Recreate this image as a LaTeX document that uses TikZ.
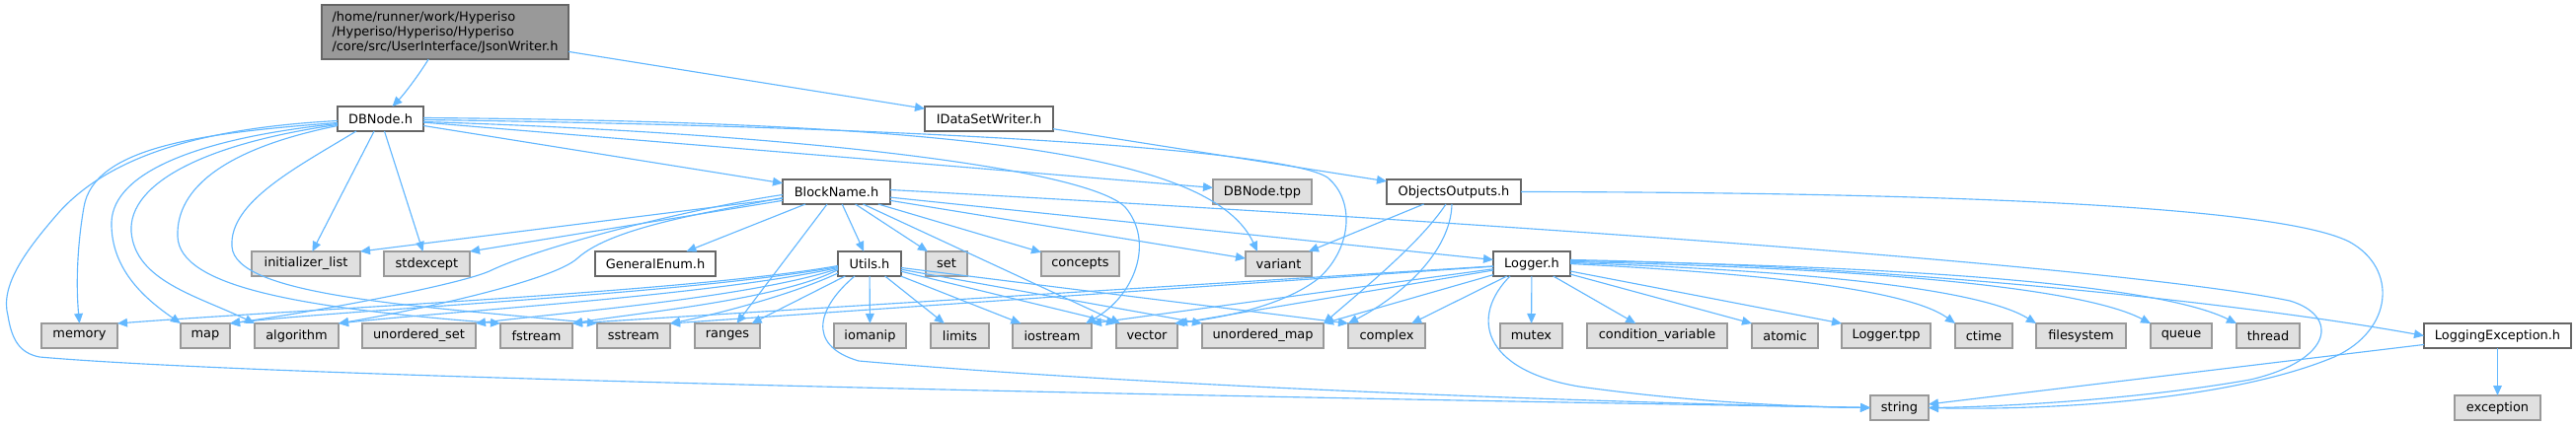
\documentclass[tikz,border=0pt]{standalone}
\usepackage{fontspec}
\setmainfont{DejaVu Sans}
\usetikzlibrary{arrows.meta,calc}
\definecolor{edgec}{HTML}{63B8FF}
\definecolor{gfill}{HTML}{E0E0E0}
\definecolor{gline}{HTML}{999999}
\definecolor{wline}{HTML}{666666}
\definecolor{rfill}{HTML}{999999}
\newcommand\mkbox[7]{\node[#6, minimum width={(#3-#2)*0.75pt}, minimum height={(#5-#4)*0.75pt}] (#1) at ({(#2+#3)/2},{(#4+#5)/2}) {#7};}
\begin{document}
\begin{tikzpicture}[x=0.75pt,y=-0.75pt,
  font=\fontsize{9.7}{11.25}\selectfont,
  base/.style={inner sep=0pt, outer sep=0pt, line width=0.8pt},
  wnode/.style={base, draw=wline, fill=white},
  gnode/.style={base, draw=gline, fill=gfill},
  rnode/.style={base, draw=wline, fill=rfill, align=left},
  e/.style={draw=edgec, line width=0.85pt, -{Triangle[length=7.5pt,width=6.5pt]}}]
\useasboundingbox (0,0) rectangle (2610,432);
\fill[white] (0,0) rectangle (2610,432);
% nodes
\mkbox{root}{326}{576}{5}{60}{rnode}{/home/runner/work/Hyperiso\\/Hyperiso/Hyperiso/Hyperiso\\/core/src/UserInterface/JsonWriter.h}
\mkbox{dbn}{342}{429}{108}{133}{wnode}{DBNode.h}
\mkbox{idw}{937}{1067}{108}{133}{wnode}{IDataSetWriter.h}
\mkbox{bn}{793}{902}{182}{207}{wnode}{BlockName.h}
\mkbox{tpp}{1229}{1329}{182}{207}{gnode}{DBNode.tpp}
\mkbox{oo}{1405}{1541}{182}{207}{wnode}{ObjectsOutputs.h}
\mkbox{il}{255}{365}{255}{280}{gnode}{initializer\_list}
\mkbox{se}{389}{476}{255}{280}{gnode}{stdexcept}
\mkbox{ge}{603}{725}{255}{280}{wnode}{GeneralEnum.h}
\mkbox{ut}{849}{913}{255}{280}{wnode}{Utils.h}
\mkbox{set}{938}{980}{255}{280}{gnode}{set}
\mkbox{con}{1055}{1134}{255}{280}{gnode}{concepts}
\mkbox{var}{1262}{1329}{255}{280}{gnode}{variant}
\mkbox{lg}{1513}{1591}{255}{280}{wnode}{Logger.h}
\mkbox{mem}{42}{119}{328}{353}{gnode}{memory}
\mkbox{map}{183}{233}{328}{353}{gnode}{map}
\mkbox{alg}{258}{343}{328}{353}{gnode}{algorithm}
\mkbox{us}{367}{482}{328}{353}{gnode}{unordered\_set}
\mkbox{fs}{507}{580}{328}{353}{gnode}{fstream}
\mkbox{ss}{605}{679}{328}{353}{gnode}{sstream}
\mkbox{rng}{704}{770}{328}{353}{gnode}{ranges}
\mkbox{iom}{845}{918}{328}{353}{gnode}{iomanip}
\mkbox{lim}{943}{1002}{328}{353}{gnode}{limits}
\mkbox{ios}{1026}{1106}{328}{353}{gnode}{iostream}
\mkbox{vec}{1131}{1193}{328}{353}{gnode}{vector}
\mkbox{um}{1218}{1341}{328}{353}{gnode}{unordered\_map}
\mkbox{cx}{1366}{1444}{328}{353}{gnode}{complex}
\mkbox{mtx}{1520}{1583}{328}{353}{gnode}{mutex}
\mkbox{cv}{1608}{1750}{328}{353}{gnode}{condition\_variable}
\mkbox{atm}{1775}{1842}{328}{353}{gnode}{atomic}
\mkbox{ltpp}{1866}{1956}{328}{353}{gnode}{Logger.tpp}
\mkbox{ct}{1981}{2039}{328}{353}{gnode}{ctime}
\mkbox{fsys}{2063}{2154}{328}{353}{gnode}{filesystem}
\mkbox{que}{2179}{2241}{328}{353}{gnode}{queue}
\mkbox{thr}{2266}{2330}{328}{353}{gnode}{thread}
\mkbox{le}{2456}{2605}{328}{353}{wnode}{LoggingException.h}
\mkbox{str}{1895}{1954}{401}{426}{gnode}{string}
\mkbox{exc}{2487}{2574}{401}{426}{gnode}{exception}
% root edges
\draw[e] (root) .. controls (425,75) and (410,95) .. (dbn);
\draw[e] (root) -- (idw);
\draw[e] (idw) -- (oo);
% DBNode edges
\draw[e] (dbn) -- (bn);
\draw[e] (dbn) -- (tpp);
\draw[e] (dbn) -- (il);
\draw[e] (dbn) -- (se);
\draw[e] ($(dbn.east)+(0,-1)$) .. controls (1000,124) and (1230,160) .. ($(var.north west)+(12,0)$);
\draw[e] ($(dbn.east)+(0,3)$) .. controls (800,135) and (1100,170) .. (1140,210) .. controls (1170,245) and (1150,300) .. ($(ios.north east)+(-6,0)$);
\draw[e] ($(dbn.east)+(0,1)$) .. controls (900,128) and (1300,150) .. (1345,180) .. controls (1375,205) and (1368,255) .. (1335,283) .. controls (1300,310) and (1240,322) .. ($(vec.north east)+(-3,0)$);
\draw[e] ($(dbn.west)+(0,4)$) .. controls (200,135) and (95,150) .. (85,210) .. controls (78,250) and (77,290) .. (mem.north);
\draw[e] ($(dbn.west)+(0,2)$) .. controls (200,130) and (110,160) .. (60,215) .. controls (25,255) and (0,290) .. (8,320) .. controls (12,345) and (20,358) .. (40,362) .. controls (300,385) and (1400,405) .. (str.west);
\draw[e] ($(dbn.west)+(0,5)$) .. controls (200,140) and (115,175) .. (113,225) .. controls (112,275) and (150,305) .. (map.north west);
\draw[e] ($(dbn.west)+(0,6)$) .. controls (210,145) and (130,185) .. (133,235) .. controls (137,285) and (200,300) .. (alg.north west);
\draw[e] ($(dbn.west)+(0,7)$) .. controls (230,150) and (178,190) .. (180,240) .. controls (182,290) and (300,312) .. (fs.north west);
\draw[e] ($(dbn.south west)+(19,0)$) .. controls (300,170) and (232,205) .. (235,250) .. controls (238,300) and (420,310) .. (ss.north west);
% BlockName edges
\draw[e] (bn) -- (il.north east);
\draw[e] (bn) -- (se.north east);
\draw[e] (bn) -- (ge);
\draw[e] (bn) -- (rng);
\draw[e] (bn) -- (ut);
\draw[e] (bn) -- (set);
\draw[e] (bn) -- (con);
\draw[e] (bn) -- (var);
\draw[e] (bn) -- (lg);
\draw[e] (bn) -- (vec);
\draw[e] ($(bn.west)+(0,3)$) .. controls (720,208) and (560,245) .. (498,274) .. controls (470,288) and (320,316) .. (map.north east);
\draw[e] ($(bn.west)+(0,6)$) .. controls (720,215) and (620,230) .. (585,262) .. controls (560,285) and (420,315) .. (alg.north east);
\draw[e] ($(bn.east)+(0,-2)$) .. controls (1500,225) and (2150,270) .. (2320,305) .. controls (2370,320) and (2365,365) .. (2280,385) .. controls (2150,408) and (2000,413) .. (str.east);
% Utils edges
\draw[e] (ut) -- (rng);
\draw[e] (ut) -- (iom);
\draw[e] (ut) -- (lim);
\draw[e] (ut) -- (ios);
\draw[e] (ut) -- (vec.north west);
\draw[e] (ut) -- (um.north west);
\draw[e] (ut) -- (cx.north west);
\draw[e] ($(ut.west)+(0,2)$) .. controls (700,296) and (300,314) .. (mem.north east);
\draw[e] ($(ut.west)+(0,3)$) .. controls (700,298) and (350,314) .. (map.north east);
\draw[e] ($(ut.west)+(0,4)$) .. controls (720,300) and (450,316) .. (alg.north east);
\draw[e] ($(ut.west)+(0,5)$) .. controls (760,302) and (560,318) .. (us.north east);
\draw[e] ($(ut.west)+(0,6)$) .. controls (790,304) and (640,318) .. (fs.north east);
\draw[e] ($(ut.south west)+(0,-3)$) .. controls (800,300) and (720,320) .. (ss.north east);
\draw[e] ($(ut.south)+(-15,0)$) .. controls (830,310) and (815,350) .. (870,366) .. controls (1200,395) and (1700,410) .. (str.west);
% Logger edges
\draw[e] (lg) -- (mtx);
\draw[e] (lg) -- (cv);
\draw[e] (lg) -- (cx);
\draw[e] (lg) -- (atm.north west);
\draw[e] (lg) -- (ltpp.north west);
\draw[e] (lg) -- (fs.north east);
\draw[e] (lg) -- (ss.north east);
\draw[e] (lg) -- (ios.north east);
\draw[e] (lg) -- (vec.north east);
\draw[e] (lg) -- (um.north east);
\draw[e] (lg.east) .. controls (1800,278) and (1935,295) .. (ct.north west);
\draw[e] ($(lg.east)+(0,-1)$) .. controls (1850,275) and (2010,295) .. (fsys.north west);
\draw[e] ($(lg.east)+(0,-2)$) .. controls (1900,272) and (2110,292) .. (que.north west);
\draw[e] ($(lg.east)+(0,-3)$) .. controls (1950,270) and (2190,290) .. (thr.north west);
\draw[e] ($(lg.east)+(0,-4)$) .. controls (1950,270) and (2300,312) .. (le.west);
\draw[e] ($(lg.south)+(-22,0)$) .. controls (1490,320) and (1500,375) .. (1600,392) .. controls (1700,406) and (1800,412) .. (str.west);
% ObjectsOutputs edges
\draw[e] (oo) -- (var);
\draw[e] ($(oo.south)+(-8,0)$) .. controls (1440,245) and (1385,290) .. (um.north east);
\draw[e] ($(oo.south)+(-2,0)$) .. controls (1470,255) and (1420,300) .. (cx.north west);
\draw[e] (oo.east) .. controls (1900,195) and (2300,205) .. (2380,245) .. controls (2430,272) and (2425,335) .. (2365,362) .. controls (2250,410) and (2050,416) .. (str.east);
% LoggingException edges
\draw[e] (le) -- (str);
\draw[e] (le) -- (exc);
\end{tikzpicture}
\end{document}
